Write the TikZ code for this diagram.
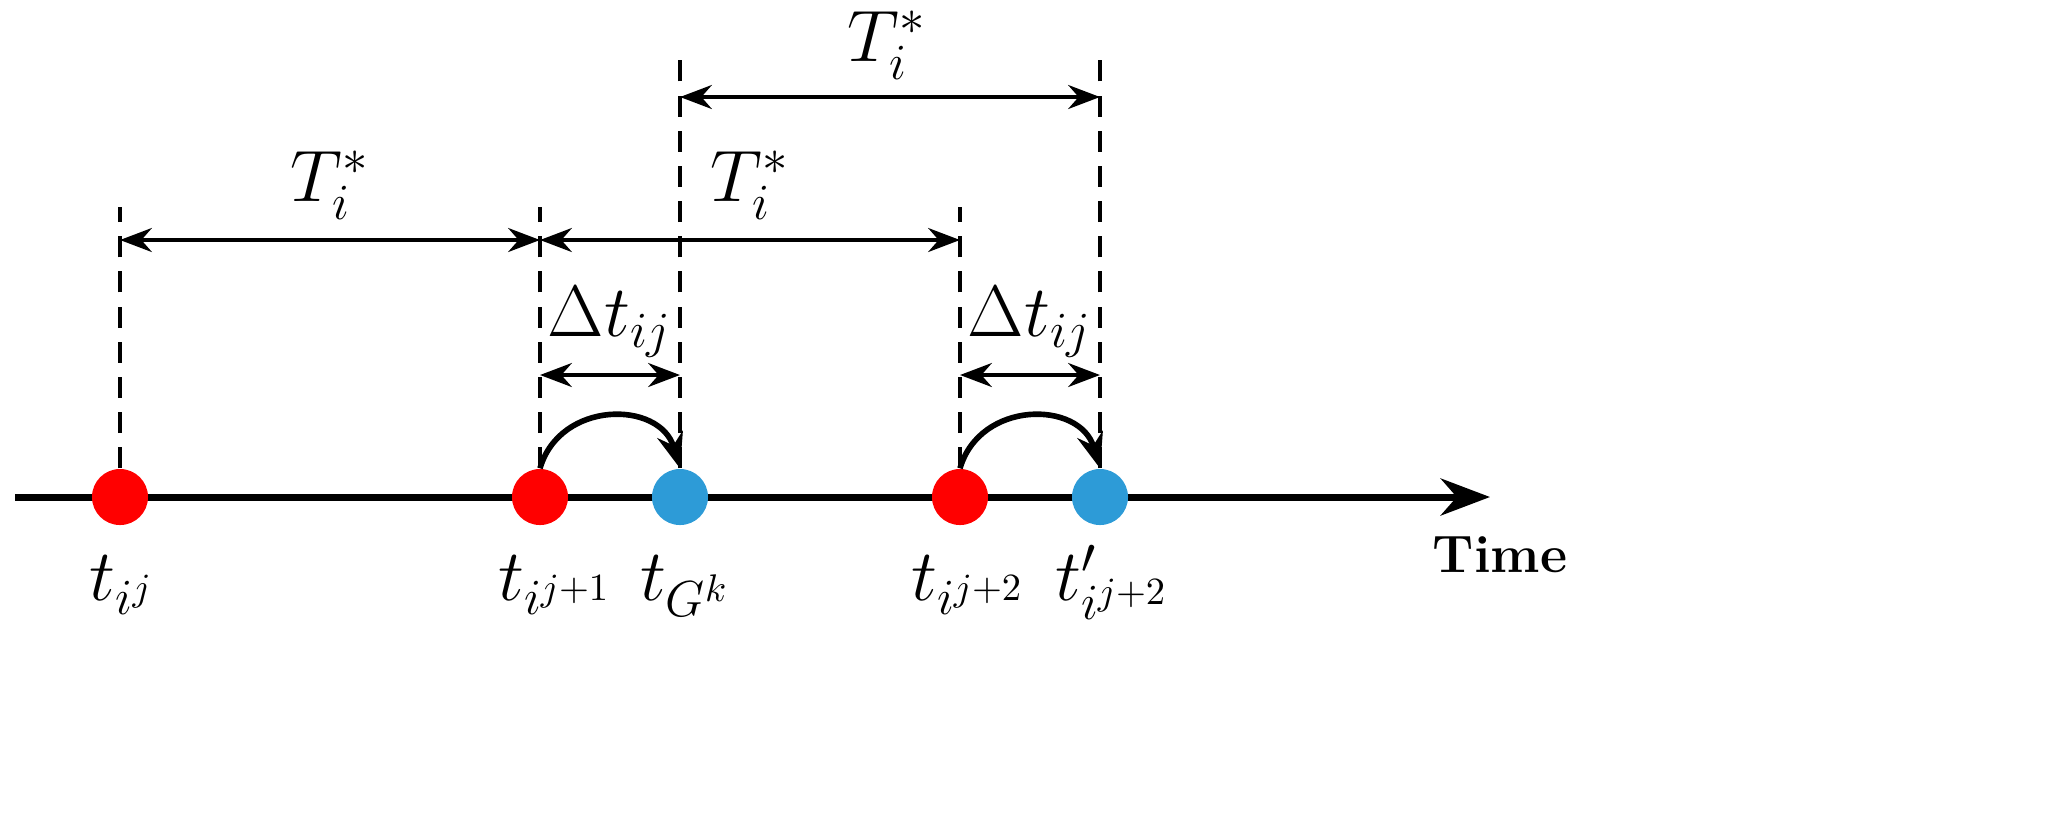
\documentclass[tikz,border=0pt]{standalone}
\usetikzlibrary{arrows.meta}
\definecolor{dotred}{RGB}{255,0,0}
\definecolor{dotblue}{RGB}{45,155,215}
\begin{document}
\begin{tikzpicture}[x=0.01cm,y=-0.01cm,
  dot/.style={circle,minimum size=0.56cm,inner sep=0pt},
  vdash/.style={line width=1.2pt,dash pattern=on 6pt off 4pt},
  dim/.style={{Stealth[length=9pt]}-{Stealth[length=9pt]},line width=1.4pt},
  lab/.style={font=\fontsize{20}{24}\selectfont},
  bl/.style={font=\fontsize{22}{26}\selectfont,anchor=base}]
\useasboundingbox (0,0) rectangle (2057,838);
\coordinate (s) at (15,497);
\coordinate (e) at (1490,497);
\draw[line width=2pt,-{Stealth[length=14pt]}] (s) -- (e);
\node[dot,fill=dotred] (a) at (120,497) {};
\node[dot,fill=dotred] (b) at (540,497) {};
\node[dot,fill=dotblue] (c) at (680,497) {};
\node[dot,fill=dotred] (d) at (960,497) {};
\node[dot,fill=dotblue] (f) at (1100,497) {};
\coordinate (a1) at (120,207); \coordinate (b1) at (540,207);
\coordinate (c1) at (680,60); \coordinate (d1) at (960,207);
\coordinate (f1) at (1100,60);
\foreach \p/\q in {a/a1,b/b1,c/c1,d/d1,f/f1} \draw[vdash] (\p.north) -- (\q);
\coordinate (a2) at (120,240); \coordinate (b2) at (540,240); \coordinate (d2) at (960,240);
\coordinate (c3) at (680,97); \coordinate (f3) at (1100,97);
\coordinate (b4) at (540,375); \coordinate (c4) at (680,375);
\coordinate (d4) at (960,375); \coordinate (f4) at (1100,375);
\draw[dim] (a2) -- (b2); \draw[dim] (b2) -- (d2); \draw[dim] (c3) -- (f3);
\draw[dim] (b4) -- (c4); \draw[dim] (d4) -- (f4);
\node[lab] (T1) at (887,45) {$T_i^*$};
\node[lab] (T2) at (330,185) {$T_i^*$};
\node[lab] (T3) at (750,185) {$T_i^*$};
\node[lab] (D1) at (610,322) {$\Delta t_{ij}$};
\node[lab] (D2) at (1030,322) {$\Delta t_{ij}$};
\draw[line width=1.6pt,-{Stealth[length=10pt]}] (b.north) .. controls (560,400) and (660,400) .. (c.north);
\draw[line width=1.6pt,-{Stealth[length=10pt]}] (d.north) .. controls (980,400) and (1080,400) .. (f.north);
\node[bl] (l1) at (122,600) {$t_{i^j}$};
\node[bl] (l2) at (555,600) {$t_{i^{j+1}}$};
\node[bl] (l3) at (685,600) {$t_{G^k}$};
\node[bl] (l4) at (968,600) {$t_{i^{j+2}}$};
\node[bl] (l5) at (1112,600) {$t'_{i^{j+2}}$};
\node[font=\fontsize{15}{18}\selectfont\bfseries] (tm) at (1500,555) {Time};
\end{tikzpicture}
\end{document}
